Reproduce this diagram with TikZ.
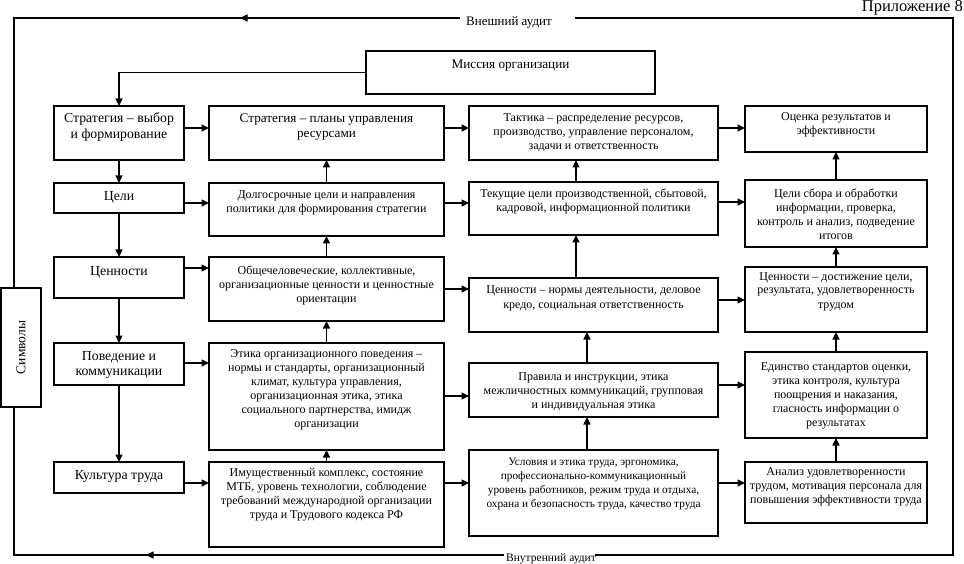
\documentclass[tikz,border=0pt]{standalone}
\usepackage{fontspec}
\setmainfont{Liberation Serif}
\usetikzlibrary{arrows.meta}
\tikzset{
  box/.style={draw=black, line width=1.4pt, fill=white, inner sep=0pt, outer sep=0pt},
  txt/.style={inner sep=0pt, align=center, font=\fontsize{12}{14}\selectfont},
  txtsm/.style={inner sep=0pt, align=center, font=\fontsize{11.3}{13.9}\selectfont},
  txtbig/.style={inner sep=0pt, align=center, font=\fontsize{13.8}{15.2}\selectfont},
  txtmid/.style={inner sep=0pt, align=center, font=\fontsize{13.2}{15}\selectfont},
  arr/.style={line width=1.2pt, -{Triangle[length=7.5pt,width=7pt]}},
  frame/.style={line width=1.2pt},
  lbl/.style={inner sep=0pt, font=\fontsize{13}{15}\selectfont}
}
\newcommand\bx[8]{%
  \node[box, anchor=north west, minimum width={(#4)-(#2)}, minimum height={(#5)-(#3)}] (#1) at (#2,#3) {};
  \node[#7, anchor=north] (#1-t) at ({((#2)+(#4))/2},{(#6)-7}) {\strut #8};
}
\begin{document}
\begin{tikzpicture}[x=1pt, y=-1pt]
\useasboundingbox (0,0) rectangle (964,564);
% title
\node[inner sep=0pt, anchor=north east, font=\fontsize{16.5}{18}\selectfont] (app) at (963,0) {Приложение 8};
% outer frame
\coordinate (tl) at (14,18);
\coordinate (tr) at (953,18);
\coordinate (bl) at (14,555);
\coordinate (br) at (953,555);
\coordinate (tg1) at (460,18);
\coordinate (tg2) at (575,18);
\coordinate (bg1) at (504,555);
\coordinate (bg2) at (595,555);
\draw[frame] (tg2) -- (tr) -- (br) -- (bg2);
\draw[frame] (bg1) -- (bl) -- (tl) -- (tg1);
\coordinate (ta1) at (262,18); \coordinate (ta2) at (240,18);
\coordinate (ba1) at (168,555); \coordinate (ba2) at (146,555);
\draw[arr] (ta1) -- (ta2);
\draw[arr] (ba1) -- (ba2);
\node[lbl] (ext) at (509,22) {Внешний аудит};
\node[lbl, font=\fontsize{11.5}{13}\selectfont] (int) at (551,559) {Внутренний аудит};
% symbols box
\node[box, anchor=north west, minimum width=40, minimum height=119] (sym) at (1,288) {};
\node[inner sep=0pt, rotate=90, font=\fontsize{13.5}{15}\selectfont] (sym-t) at (sym.center) {Символы};
% mission
\bx{mis}{366}{51}{655}{94}{64.5}{txtmid}{Миссия организации}
% column 1
\bx{a1}{54}{106}{184}{160}{119}{txtbig}{Стратегия – выбор\\и формирование}
\bx{a2}{54}{183}{184}{213}{196.5}{txtbig}{Цели}
\bx{a3}{54}{257}{184}{298}{271.5}{txtbig}{Ценности}
\bx{a4}{54}{343}{184}{385}{356.5}{txtbig}{Поведение и\\коммуникации}
\bx{a5}{54}{462}{184}{493}{475.5}{txtbig}{Культура труда}
% column 2
\bx{b1}{209}{106}{444}{160}{119}{txtmid}{Стратегия – планы управления\\ресурсами}
\bx{b2}{209}{183}{444}{236}{196}{txt}{Долгосрочные цели и направления\\политики для формирования стратегии}
\bx{b3}{209}{257}{444}{321}{271}{txt}{Общечеловеческие, коллективные,\\организационные ценности и ценностные\\ориентации}
\bx{b4}{209}{343}{444}{450}{354}{txt}{Этика организационного поведения –\\нормы и стандарты, организационный\\климат, культура управления,\\организационная этика, этика\\социального партнерства, имидж\\организации}
\bx{b5}{209}{462}{444}{547}{473}{txt}{Имущественный комплекс, состояние\\МТБ, уровень технологии, соблюдение\\требований международной организации\\труда и Трудового кодекса РФ}
% column 3
\bx{c1}{469}{106}{718}{160}{119}{txt}{Тактика – распределение ресурсов,\\производство, управление персоналом,\\задачи и ответственность}
\bx{c2}{469}{182}{718}{235}{195}{txt}{Текущие цели производственной, сбытовой,\\кадровой, информационной политики}
\bx{c3}{469}{278}{718}{332}{291}{txt}{Ценности – нормы деятельности, деловое\\кредо, социальная ответственность}
\bx{c4}{469}{363}{718}{417}{377}{txt}{Правила и инструкции, этика\\межличностных коммуникаций, групповая\\и индивидуальная этика}
\bx{c5}{469}{450}{718}{536}{463}{txtsm}{Условия и этика труда, эргономика,\\профессионально-коммуникационный\\уровень работников, режим труда и отдыха,\\охрана и безопасность труда, качество труда}
% column 4
\bx{d1}{745}{106}{927}{152}{118}{txt}{Оценка результатов и\\эффективности}
\bx{d2}{745}{180}{927}{247}{195}{txt}{Цели сбора и обработки\\информации, проверка,\\контроль и анализ, подведение\\итогов}
\bx{d3}{745}{267}{927}{332}{277}{txt}{Ценности – достижение цели,\\результата, удовлетворенность\\трудом}
\bx{d4}{745}{352}{927}{438}{367}{txt}{Единство стандартов оценки,\\этика контроля, культура\\поощрения и наказания,\\гласность информации о\\результатах}
\bx{d5}{745}{462}{927}{523}{472}{txt}{Анализ удовлетворенности\\трудом, мотивация персонала для\\повышения эффективности труда}
% mission arrow
\draw[arr] (mis.west) -| (a1.north);
% column 1 downward
\draw[arr] (a1.south) -- (a2.north);
\draw[arr] (a2.south) -- (a3.north);
\draw[arr] (a3.south) -- (a4.north);
\draw[arr] (a4.south) -- (a5.north);
% column 2 upward
\draw[arr] (b2.north) -- (b1.south);
\draw[arr] (b3.north) -- (b2.south);
\draw[arr] (b4.north) -- (b3.south);
\draw[arr] (b5.north) -- (b4.south);
% column 3 upward
\draw[arr] (c2.north -| 576,0) -- (c1.south -| 576,0);
\draw[arr] (c3.north -| 576,0) -- (c2.south -| 576,0);
\draw[arr] (c4.north -| 587,0) -- (c3.south -| 587,0);
\draw[arr] (c5.north -| 587,0) -- (c4.south -| 587,0);
% column 4 upward
\draw[arr] (d2.north) -- (d1.south);
\draw[arr] (d3.north) -- (d2.south);
\draw[arr] (d4.north) -- (d3.south);
\draw[arr] (d5.north) -- (d4.south);
% horizontal arrows
\draw[arr] (a1.east |- 0,128) -- (b1.west |- 0,128);
\draw[arr] (b1.east |- 0,128) -- (c1.west |- 0,128);
\draw[arr] (c1.east |- 0,128) -- (d1.west |- 0,128);
\draw[arr] (a2.east |- 0,203) -- (b2.west |- 0,203);
\draw[arr] (b2.east |- 0,203) -- (c2.west |- 0,203);
\draw[arr] (c2.east |- 0,202) -- (d2.west |- 0,202);
\draw[arr] (a3.east |- 0,268) -- (b3.west |- 0,268);
\draw[arr] (b3.east |- 0,289) -- (c3.west |- 0,289);
\draw[arr] (c3.east |- 0,300) -- (d3.west |- 0,300);
\draw[arr] (a4.east |- 0,363) -- (b4.west |- 0,363);
\draw[arr] (b4.east |- 0,396) -- (c4.west |- 0,396);
\draw[arr] (c4.east |- 0,385) -- (d4.west |- 0,385);
\draw[arr] (a5.east |- 0,483) -- (b5.west |- 0,483);
\draw[arr] (b5.east |- 0,483) -- (c5.west |- 0,483);
\draw[arr] (c5.east |- 0,483) -- (d5.west |- 0,483);
\end{tikzpicture}
\end{document}
